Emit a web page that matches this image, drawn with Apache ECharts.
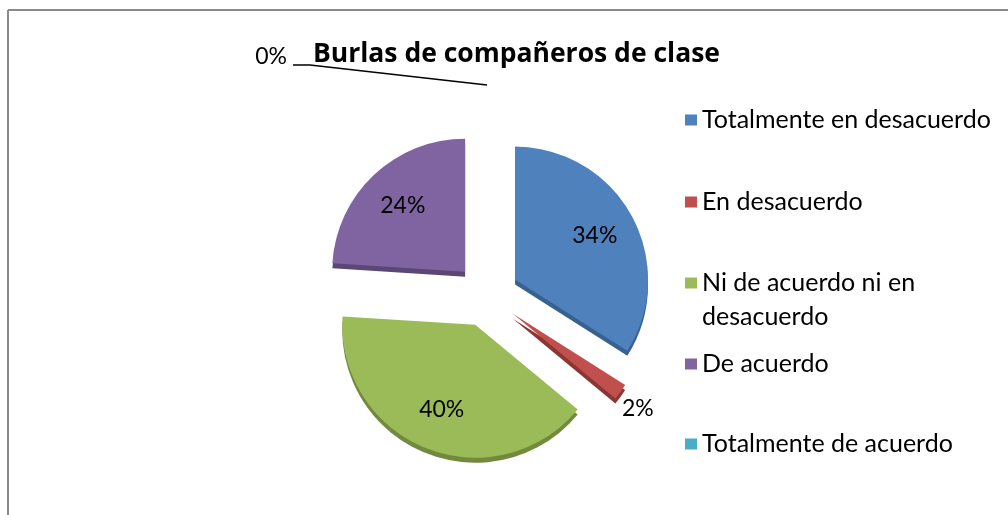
<!DOCTYPE html>
<html>
<head>
<meta charset="utf-8">
<script src="https://cdn.jsdelivr.net/npm/echarts@6/dist/echarts.min.js"></script>
<style>
html,body{margin:0;padding:0;background:#fff;}
#chart{width:1008px;height:515px;}
</style>
</head>
<body>
<div id="chart"></div>
<script>
const categories = ['Totalmente en desacuerdo', 'En desacuerdo', 'Ni de acuerdo ni en desacuerdo', 'De acuerdo', 'Totalmente de acuerdo'];
const legendLabels = ['Totalmente en desacuerdo', 'En desacuerdo', '\nNi de acuerdo ni en\ndesacuerdo', 'De acuerdo', 'Totalmente de acuerdo'];
const values = [34, 2, 40, 24, 0];
const colors = ['#4F81BD', '#C0504D', '#9BBB59', '#8064A2', '#4BACC6'];
const sideColors = ['#37628F', '#8E3431', '#728A3E', '#5B4676', '#2F7F96'];
const labelPositions = ['inside', 'outside', 'inside', 'inside', 'outside'];
const titleText = 'Burlas de compañeros de clase';

const FONT = 'Lato';
const chart = echarts.init(document.getElementById('chart'), null, {renderer: 'canvas'});

const center = [487, 295];
const R = 133;
const OFFSET = 32;

const legendTops = [106, 188, 232, 350, 430];
const legends = categories.map((c, i) => ({
  data: [c],
  orient: 'vertical',
  left: 685,
  top: legendTops[i],
  padding: 0,
  itemGap: 0,
  icon: 'rect',
  itemWidth: 12,
  itemHeight: 11,
  selectedMode: false,
  formatter: () => legendLabels[i],
  textStyle: {fontFamily: FONT, fontSize: 25, color: '#000', lineHeight: i === 2 ? 34 : 28}
}));

const option = {
  animation: false,
  backgroundColor: '#fff',
  title: {
    text: titleText,
    left: 313,
    top: 41,
    padding: 0,
    textStyle: {fontFamily: 'Open Sans', fontSize: 26.5, fontWeight: 'bold', color: '#000'}
  },
  legend: legends,
  graphic: [
    {type: 'line', shape: {x1: 8, y1: 10, x2: 8, y2: 515}, style: {stroke: '#8a8a8a', lineWidth: 2}},
    {type: 'line', shape: {x1: 8, y1: 10, x2: 1008, y2: 10}, style: {stroke: '#8a8a8a', lineWidth: 2}}
  ],
  series: [
    {
      type: 'pie',
      center: center,
      radius: R,
      startAngle: 90,
      clockwise: true,
      selectedMode: 'multiple',
      selectedOffset: OFFSET,
      silent: true,
      label: {show: false},
      labelLine: {show: false},
      emphasis: {disabled: true},
      data: categories.map((c, i) => ({
        name: c,
        value: values[i],
        selected: true,
        itemStyle: {color: colors[i], shadowColor: sideColors[i], shadowOffsetY: 5, shadowBlur: 0}
      }))
    },
    {
      // invisible ring carrying the labels (positioned like Excel's exploded-pie labels)
      type: 'pie',
      center: center,
      radius: [95, 145],
      startAngle: 90,
      clockwise: true,
      selectedMode: false,
      silent: true,
      avoidLabelOverlap: false,
      emphasis: {disabled: true},
      itemStyle: {color: 'rgba(0,0,0,0)'},
      label: {show: true, fontFamily: FONT, fontSize: 23, color: '#000', formatter: '{c}%'},
      data: categories.map((c, i) => ({
        name: c,
        value: values[i],
        label: {position: labelPositions[i]},
        labelLine: i === 4
          ? {show: true, length: 65, length2: 10, lineStyle: {color: '#000', width: 1.5}}
          : {show: false, length: 40, length2: 0}
      })),
      labelLayout: function (params) {
        if (params.dataIndex === 4) {
          const lx = 287, ly = 57;
          const pts = params.labelLinePoints;
          return {
            x: lx, y: ly, align: 'right', verticalAlign: 'middle',
            labelLinePoints: [pts[1], [lx + 23, ly + 8], [lx + 6, ly + 8]]
          };
        }
        if (params.dataIndex === 1) {
          return {x: 622, y: 409, align: 'left', verticalAlign: 'middle'};
        }
        return {};
      }
    }
  ]
};
chart.setOption(option);
</script>
</body>
</html>
